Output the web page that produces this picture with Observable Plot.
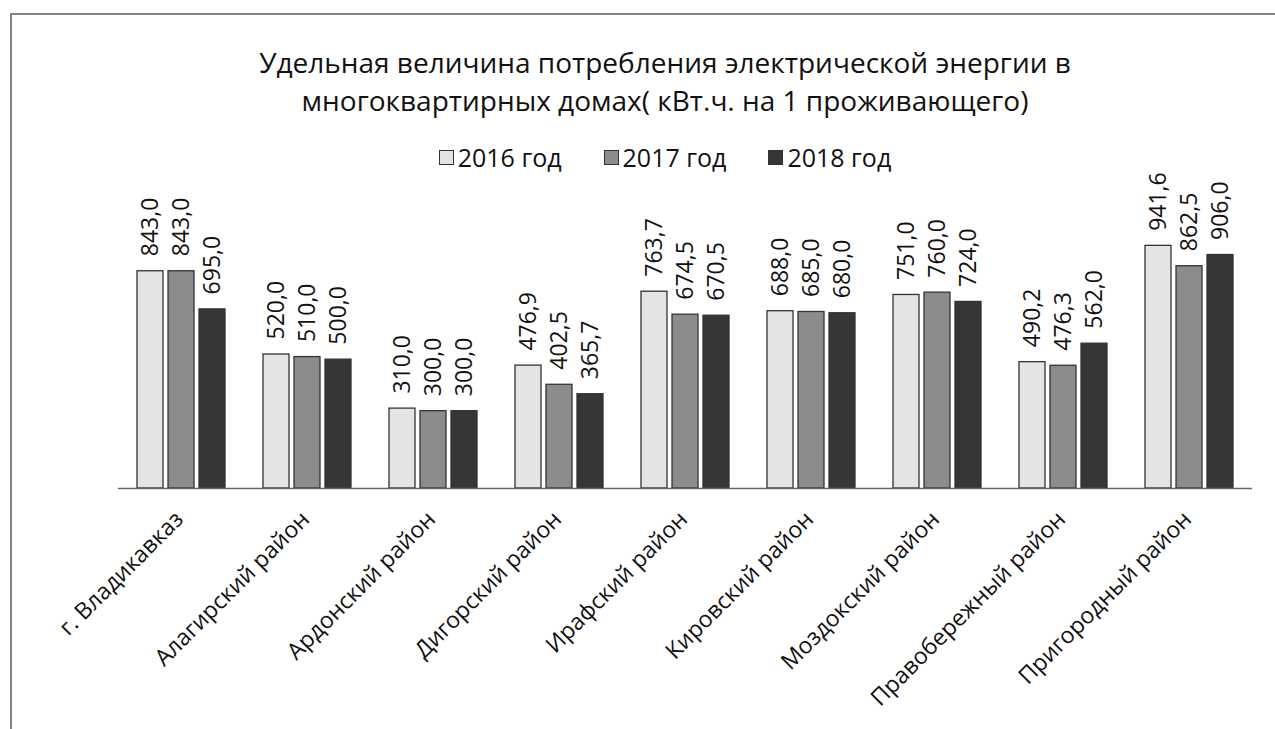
<!DOCTYPE html>
<html>
<head>
<meta charset="utf-8">
<script src="https://cdn.jsdelivr.net/npm/d3@7"></script>
<script src="https://cdn.jsdelivr.net/npm/@observablehq/plot@0.6"></script>
<style>
  html, body { margin: 0; padding: 0; background: #fff; }
  body { width: 1275px; height: 729px; overflow: hidden; position: relative; font-family: "Open Sans", sans-serif; }
  #frame { position: absolute; left: 10px; top: 13px; width: 1400px; height: 900px; border-left: 2px solid #858585; border-top: 2px solid #858585; box-sizing: border-box; pointer-events: none; }
  #header { position: relative; width: 1275px; height: 180px; }
  .tline { position: absolute; left: 55px; width: 1220px; text-align: center; font-size: 28px; color: #111; white-space: nowrap; line-height: 38px; }
  #legend { position: absolute; left: 55px; width: 1220px; top: 141px; display: flex; justify-content: center; gap: 42px; font-size: 25px; line-height: 32px; color: #111; }
  .item { display: flex; align-items: center; gap: 4px; }
  .sw { width: 15px; height: 15px; border: 1.5px solid #333; box-sizing: border-box; }
</style>
</head>
<body>
<div id="frame"></div>
<div id="header">
  <div class="tline" id="t1" style="top:43px"></div>
  <div class="tline" id="t2" style="top:81px"></div>
  <div id="legend"></div>
</div>
<div id="chart"></div>
<script>
const titleLines = ["Удельная величина потребления электрической энергии в", "многоквартирных домах( кВт.ч. на 1 проживающего)"];
const districts = ["г. Владикавказ", "Алагирский район", "Ардонский район", "Дигорский район", "Ирафский район", "Кировский район", "Моздокский район", "Правобережный район", "Пригородный район"];
const years = ["2016 год", "2017 год", "2018 год"];
const values2016 = [843.0, 520.0, 310.0, 476.9, 763.7, 688.0, 751.0, 490.2, 941.6];
const values2017 = [843.0, 510.0, 300.0, 402.5, 674.5, 685.0, 760.0, 476.3, 862.5];
const values2018 = [695.0, 500.0, 300.0, 365.7, 670.5, 680.0, 724.0, 562.0, 906.0];
const colors = ["#e4e4e4", "#8c8c8c", "#363636"];

const series = [values2016, values2017, values2018];
const data = [];
districts.forEach((d, i) => years.forEach((y, j) => data.push({district: d, year: y, value: series[j][i]})));

document.getElementById("t1").textContent = titleLines[0];
document.getElementById("t2").textContent = titleLines[1];
const legend = document.getElementById("legend");
years.forEach((y, j) => {
  const it = document.createElement("div"); it.className = "item";
  const sw = document.createElement("div"); sw.className = "sw"; sw.style.background = colors[j];
  const tx = document.createElement("span"); tx.textContent = y;
  it.appendChild(sw); it.appendChild(tx); legend.appendChild(it);
});

const fmt = v => d3.format(".1f")(v).replace(".", ",");

const chart = Plot.plot({
  width: 1275,
  height: 549,
  marginLeft: 115,
  marginRight: 20,
  marginTop: 50.3,
  marginBottom: 241,
  style: {fontFamily: "Open Sans, sans-serif", color: "#111", background: "transparent", overflow: "visible"},
  fx: {domain: districts, padding: 0, label: null},
  x: {domain: years, paddingInner: 0.17, paddingOuter: 0.6, axis: null},
  y: {domain: [0, 1000], axis: null},
  color: {domain: years, range: colors},
  marks: [
    Plot.barY(data, {fx: "district", x: "year", y: "value", fill: "year", stroke: "#333", strokeWidth: 1.3}),
    Plot.ruleY([0], {stroke: "#666", strokeWidth: 1.5}),
    Plot.text(data, {fx: "district", x: "year", y: "value", text: d => fmt(d.value), rotate: -90, textAnchor: "start", dy: -15, fontSize: 23, fill: "#111"}),
    Plot.axisFx({anchor: "bottom", tickRotate: -45, tickSize: 0, tickPadding: 27, fontSize: 23, label: null, dx: -2})
  ]
});
document.getElementById("chart").appendChild(chart);
</script>
</body>
</html>
